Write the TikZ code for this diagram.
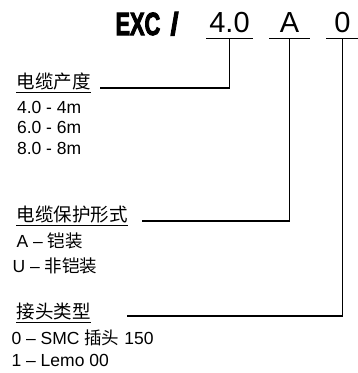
\documentclass[tikz,border=0pt]{standalone}
\usepackage{graphicx}
\usepackage{fontspec}
\setmainfont{Liberation Sans}
\newfontfamily\cjk{Noto Sans CJK SC}
\newfontfamily\titlefont{Liberation Sans Bold}[FakeBold=3.5]
\usetikzlibrary{positioning}

\begin{document}
\begin{tikzpicture}[x=1pt,y=-1pt, line width=1.1pt, font=\fontsize{17.5}{21}\selectfont]
\useasboundingbox (0,0) rectangle (358,373);
\tikzset{anchor=base west, inner sep=0pt}
\tikzset{under/.style={append after command={(\tikzlastnode.south west) edge[line width=0.9pt] (\tikzlastnode.south east)}},
  field/.style={under, anchor=south, text depth=5pt, font=\fontsize{29}{30}\selectfont},
  head/.style={under, text depth=3.5pt, font=\cjk\fontsize{18.5}{20}\selectfont}}

\node (code) at (115,35) {\titlefont\fontsize{32}{32}\selectfont\scalebox{0.68}[1]{EXC}};
\node (slash) at (170,35) {\titlefont\fontsize{32}{32}\selectfont\scalebox{0.9}[1]{/}};
\node[field, minimum width=45] (len) at (229.5,38) {4.0};
\node[field, minimum width=39] (arm) at (289.5,38) {A};
\node[field, minimum width=31] (conn) at (342.5,38) {0};

% cable length
\node[head] (len head) at (16,88) {电缆产度};
\node (len a) at (16.5,113) {4.0 - 4m};
\node (len b) at (16.5,133.5) {6.0 - 6m};
\node (len c) at (16.5,154) {8.0 - 8m};
\coordinate (len end) at (100,88);
\draw (len.south) |- (len end);

% armour
\node[head] (arm head) at (16,221) {电缆保护形式};
\node (arm a) at (16,247) {A – {\cjk 铠装}};
\node (arm b) at (12,272.5) {U – {\cjk 非铠装}};
\coordinate (arm end) at (142,221);
\draw (arm.south) |- (arm end);

% connector
\node[head] (conn head) at (16,318) {接头类型};
\node (conn a) at (11,344) {0 – SMC {\cjk 插头} 150};
\node (conn b) at (11,366) {1 – Lemo 00};
\coordinate (conn end) at (127,316);
\draw (conn.south) |- (conn end);
\end{tikzpicture}
\end{document}
